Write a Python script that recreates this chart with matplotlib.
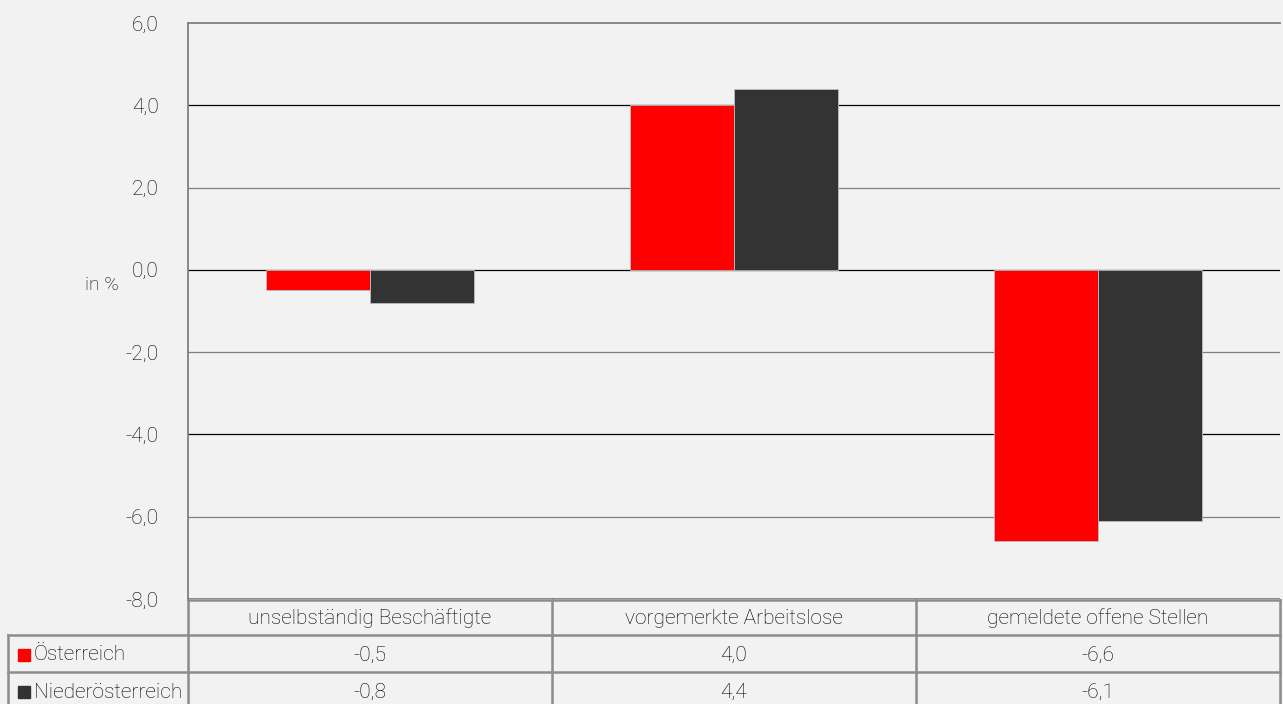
import matplotlib
matplotlib.use("Agg")
import matplotlib.pyplot as plt
from matplotlib.patches import Rectangle

plt.rcParams['font.family'] = ['Roboto', 'DejaVu Sans']
plt.rcParams['font.weight'] = 'light'

categories = ["unselbständig Beschäftigte", "vorgemerkte Arbeitslose", "gemeldete offene Stellen"]
series_names = ["Österreich", "Niederösterreich"]
oesterreich = [-0.5, 4.0, -6.6]
niederoesterreich = [-0.8, 4.4, -6.1]
yticks = [6, 4, 2, 0, -2, -4, -6, -8]

colors = ["#ff0000", "#333333"]
bg = "#f2f2f2"
line_grey = "#8c8c8c"
text_col = "#000000"
fs = 15

W, H = 1283, 704
fig = plt.figure(figsize=(W / 100, H / 100), dpi=100, facecolor=bg)

# plot area in pixels
left, right, top, bottom = 188, 1280, 23, 599
ax = fig.add_axes([left / W, 1 - bottom / H, (right - left) / W, (bottom - top) / H])
ax.set_facecolor(bg)

x = range(len(categories))
bw = 0.286
for i, (vals, c) in enumerate(zip([oesterreich, niederoesterreich], colors)):
    offs = (i - 0.5) * bw
    ax.bar([xi + offs for xi in x], vals, width=bw, color=c, zorder=3,
           edgecolor="#bdbdbd", linewidth=0.6)

ax.set_xlim(-0.5, 2.5)
ax.set_ylim(-8, 6)
ax.set_xticks([])
ax.set_yticks(yticks)
ax.set_yticklabels([f"{v:.1f}".replace(".", ",") for v in yticks],
                   fontsize=fs, color=text_col)
ax.tick_params(axis="y", length=0, pad=21)
for v in yticks:
    if v in (6, -8):
        continue
    ax.axhline(v, color="black" if v % 4 == 0 else "#7f7f7f", lw=0.9, zorder=2)
for s in ["right", "bottom"]:
    ax.spines[s].set_visible(False)
ax.spines["top"].set_color("#7f7f7f")
ax.spines["top"].set_linewidth(1.3)
ax.spines["left"].set_color("#7f7f7f")
ax.spines["left"].set_linewidth(1.3)
ax.axhline(-8, color="#7f7f7f", lw=1.3, zorder=2)

fig.text(102 / W, 1 - 285 / H, "in %", fontsize=14, color=text_col,
         ha="center", va="center")

# data table below the plot, drawn in pixel coords
tab = fig.add_axes([0, 0, 1, 1])
tab.set_xlim(0, W)
tab.set_ylim(H, 0)
tab.axis("off")
tab.patch.set_alpha(0)

rows_y = [600, 635, 672, 709]
col_x = [left + (right - left) * k / 3 for k in range(4)]
lw = 1.8
tab.plot([left, right], [rows_y[0]] * 2, color=line_grey, lw=lw)
for yy in rows_y[1:3]:
    tab.plot([8, right], [yy] * 2, color=line_grey, lw=lw)
for cx in col_x:
    tab.plot([cx, cx], [rows_y[0], H], color=line_grey, lw=lw)
tab.plot([8, 8], [rows_y[1], H], color=line_grey, lw=lw)

row_centers = [655, 692]
for k, cat in enumerate(categories):
    cx = (col_x[k] + col_x[k + 1]) / 2
    tab.text(cx, 618, cat, fontsize=fs, color=text_col, ha="center", va="center")
    for r, vals in enumerate([oesterreich, niederoesterreich]):
        tab.text(cx, row_centers[r], f"{vals[k]:.1f}".replace(".", ","),
                 fontsize=fs, color=text_col, ha="center", va="center")

for r, (name, c) in enumerate(zip(series_names, colors)):
    yc = row_centers[r]
    tab.add_patch(Rectangle((18, yc - 6), 12, 12, color=c))
    tab.text(34, yc, name, fontsize=fs, color=text_col, ha="left", va="center")

fig.savefig("out.png", dpi=100, facecolor=bg)
